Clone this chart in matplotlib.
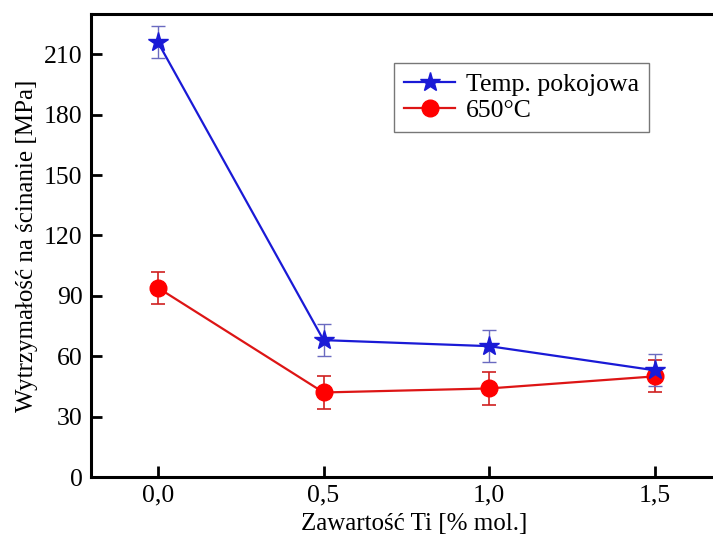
import matplotlib.pyplot as plt

ti_content = [0.0, 0.5, 1.0, 1.5]
room_temp = [216, 68, 65, 53]
room_temp_err = [8, 8, 8, 8]
hot_650 = [94, 42, 44, 50]
hot_650_err = [8, 8, 8, 8]
x_ticks = [0.0, 0.5, 1.0, 1.5]
x_labels = ["0,0", "0,5", "1,0", "1,5"]
y_ticks = [0, 30, 60, 90, 120, 150, 180, 210]

plt.rcParams["font.family"] = ["Liberation Serif", "DejaVu Serif"]

fig = plt.figure(figsize=(7.13, 5.39), dpi=100)
ax = fig.add_axes([0.1276, 0.115, 0.907, 0.859])

# error bars first, lines + markers on top (legend shows no error bars)
ax.errorbar(ti_content, room_temp, yerr=room_temp_err, fmt="none",
            ecolor="#6a6ac0", elinewidth=1.0, capsize=5, capthick=1.0, zorder=2)
ax.errorbar(ti_content, hot_650, yerr=hot_650_err, fmt="none",
            ecolor="#d02020", elinewidth=1.2, capsize=5, capthick=1.2, zorder=1)
ax.plot(ti_content, room_temp, color="#1a1ad6", marker="*", markersize=15,
        linewidth=1.6, label="Temp. pokojowa", zorder=4)
ax.plot(ti_content, hot_650, color="#dd1515", marker="o", markersize=12,
        markerfacecolor="#ff0000", markeredgecolor="#ff0000", linewidth=1.6,
        label="650°C", zorder=3)

ax.set_xlim(-0.202, 1.75)
ax.set_ylim(0, 230)
ax.set_xticks(x_ticks)
ax.set_xticklabels(x_labels)
ax.set_yticks(y_ticks)
ax.tick_params(direction="in", length=8, width=2, labelsize=18.5, pad=6)
ax.tick_params(axis="x", pad=5)

for side in ["left", "bottom", "top", "right"]:
    ax.spines[side].set_linewidth(2.2)

ax.set_xlabel("Zawartość Ti [% mol.]", fontsize=18, labelpad=5)
ax.set_ylabel("Wytrzymałość na ścinanie [MPa]", fontsize=18, labelpad=4)

leg = ax.legend(loc="upper left", bbox_to_anchor=(0.468, 0.894), borderaxespad=0,
                fancybox=False, framealpha=1, edgecolor="#777777", fontsize=18.5,
                handlelength=2.0, handletextpad=0.4, borderpad=0.4, labelspacing=0.1)
leg.get_frame().set_linewidth(1.0)

fig.savefig("out.png", dpi=100)
